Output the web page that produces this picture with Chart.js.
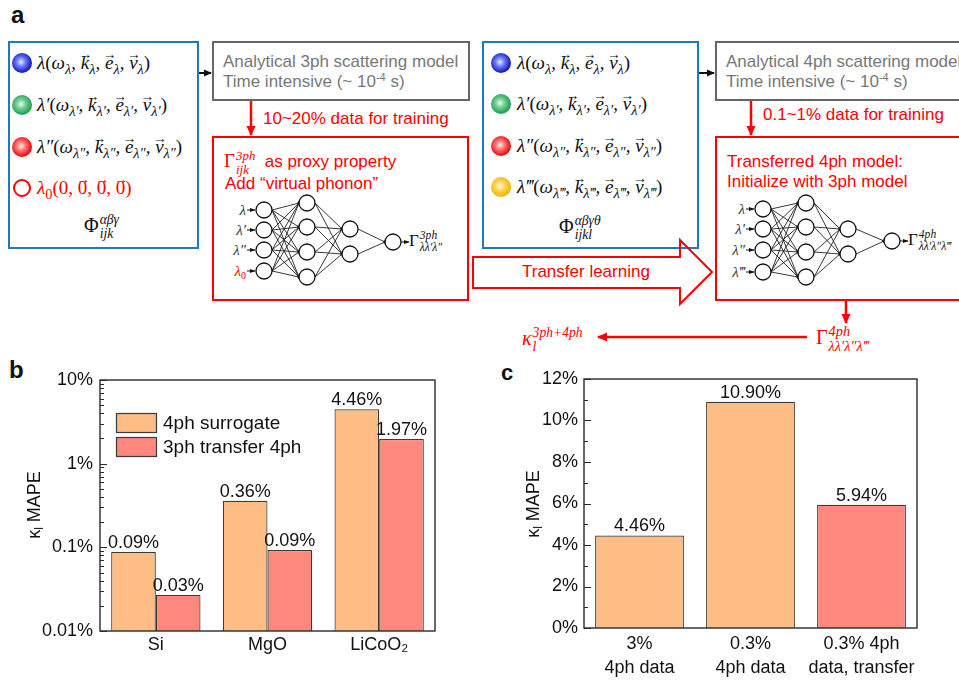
<!DOCTYPE html>
<html>
<head>
<meta charset="utf-8">
<script src="https://cdn.jsdelivr.net/npm/chart.js@4"></script>
<style>
  html, body { margin: 0; padding: 0; background: #fff; }
  body { width: 959px; height: 680px; position: relative; overflow: hidden;
         font-family: "Liberation Sans", Arial, Helvetica, sans-serif; }
  .abs { position: absolute; white-space: nowrap; }
  .box { position: absolute; box-sizing: border-box; border: 2px solid; }
  .blue { border-color: #1f78c6; }
  .gray { border-color: #666; }
  .red  { border-color: #ff0000; }
  .plab { font-weight: bold; font-size: 24px; color: #111; }
  .gtxt { font-size: 17px; line-height: 20px; color: #777; }
  .rtxt { font-size: 17px; line-height: 20px; color: #ff0000; }
  .m { font-family: "Liberation Serif", "DejaVu Serif", serif; font-style: italic; color: #111; }
  .up { font-style: normal; }
  .row { font-size: 19px; line-height: 22px; }
  sub.s { font-size: 0.76em; vertical-align: -0.35em; line-height: 0; }
  .vec { position: relative; display: inline-block; }
  .vec::after { content: "\2192"; position: absolute; left: 55%; transform: translateX(-50%);
                top: -0.62em; font-size: 0.72em; font-style: normal; }
  .ss { display: inline-flex; flex-direction: column; vertical-align: middle;
        font-size: 0.68em; line-height: 1.05; margin-left: 1px; }
  .ball { position: absolute; width: 20px; height: 20px; border-radius: 50%; }
  sup.t { font-size: 0.65em; line-height: 0; vertical-align: 0.55em; }
  canvas { position: absolute; }
</style>
</head>
<body>

<!-- panel letters -->
<div class="abs plab" style="left:11px;top:1px;">a</div>
<div class="abs plab" style="left:9px;top:356px;">b</div>
<div class="abs plab" style="left:501px;top:360px;font-size:22px;">c</div>

<!-- 3ph workflow -->
<div class="box blue" style="left:8px;top:41px;width:191px;height:208px;"></div>
<div class="box gray" style="left:212px;top:41px;width:258px;height:60px;"></div>
<div class="box red"  style="left:212px;top:136px;width:257px;height:165px;"></div>

<!-- 4ph workflow -->
<div class="box blue" style="left:482px;top:41px;width:217px;height:208px;"></div>
<div class="box gray" style="left:715px;top:41px;width:280px;height:60px;"></div>
<div class="box red"  style="left:715px;top:136px;width:280px;height:165px;"></div>

<svg id="diagram" class="abs" width="959" height="680" style="left:0;top:0;" xmlns="http://www.w3.org/2000/svg">
  <defs>
    <marker id="hk" markerWidth="8" markerHeight="8" refX="7" refY="4" orient="auto" markerUnits="userSpaceOnUse">
      <path d="M0,0.5 L8,4 L0,7.5 Z" fill="#111"/>
    </marker>
    <marker id="hr" markerWidth="10" markerHeight="10" refX="9" refY="5" orient="auto" markerUnits="userSpaceOnUse">
      <path d="M0,0.5 L10,5 L0,9.5 Z" fill="#ff0000"/>
    </marker>
    <marker id="hs" markerWidth="6" markerHeight="6" refX="5.5" refY="3" orient="auto" markerUnits="userSpaceOnUse">
      <path d="M0,0.8 L6,3 L0,5.2 Z" fill="#111"/>
    </marker>
  </defs>
  <!-- connectors -->
  <line x1="199" y1="73" x2="211" y2="73" stroke="#111" stroke-width="2" marker-end="url(#hk)"/>
  <line x1="699" y1="73" x2="714" y2="73" stroke="#111" stroke-width="2" marker-end="url(#hk)"/>
  <line x1="251" y1="101" x2="251" y2="135" stroke="#ff0000" stroke-width="2.5" marker-end="url(#hr)"/>
  <line x1="751" y1="101" x2="751" y2="135" stroke="#ff0000" stroke-width="2.5" marker-end="url(#hr)"/>
  <line x1="846" y1="301" x2="846" y2="323" stroke="#ff0000" stroke-width="2.5" marker-end="url(#hr)"/>
  <line x1="807" y1="337" x2="598" y2="337" stroke="#ff0000" stroke-width="2.5" marker-end="url(#hr)"/>
  <!-- transfer learning block arrow -->
  <polygon points="473,257 680,257 680,240 712,272 680,304 680,288 473,288"
           fill="none" stroke="#ff0000" stroke-width="2"/>
  <g id="net3"></g>
  <g id="net4"></g>
</svg>

<!-- gray model boxes -->
<div class="abs gtxt" style="left:223px;top:52px;">Analytical 3ph scattering model<br>Time intensive (~ 10<sup class="t">-4</sup> s)</div>
<div class="abs gtxt" style="left:726px;top:52px;">Analytical 4ph scattering model<br>Time intensive (~ 10<sup class="t">-4</sup> s)</div>

<div class="abs rtxt" style="left:263px;top:109px;">10~20% data for training</div>
<div class="abs rtxt" style="left:763px;top:105px;">0.1~1% data for training</div>

<!-- red model boxes -->
<div class="abs rtxt" style="left:224px;top:147px;line-height:28px;"><span class="m" style="color:#f00;font-size:19px;"><span class="up">Γ</span><span class="ss"><span>3ph</span><span>ijk</span></span></span>&nbsp; as proxy property</div>
<div class="abs rtxt" style="left:225px;top:174px;">Add “virtual phonon”</div>
<div class="abs rtxt" style="left:727px;top:152px;">Transferred 4ph model:<br>Initialize with 3ph model</div>

<div class="abs rtxt" style="left:522px;top:262px;">Transfer learning</div>

<!-- phonon descriptors, 3ph -->
<div class="ball" style="left:12px;top:53px;background:radial-gradient(circle at 45% 45%,#e8ecff 0%,#6f7ff2 28%,#1b1bd0 65%,#0b0b96 100%);"></div>
<div class="ball" style="left:12px;top:95px;background:radial-gradient(circle at 45% 45%,#eefaf2 0%,#79cf98 28%,#22a556 65%,#0f8a3e 100%);"></div>
<div class="ball" style="left:12px;top:137px;background:radial-gradient(circle at 45% 45%,#ffeeee 0%,#ff7b7b 28%,#f01010 65%,#c40000 100%);"></div>
<div class="ball" style="left:13px;top:179px;width:14px;height:14px;border:2.5px solid #ff0000;background:#fff;"></div>

<div class="abs m row" style="left:37px;top:52px;">λ<span class="up">(</span>ω<sub class="s">λ</sub>, <span class="vec">k</span><sub class="s">λ</sub>, <span class="vec">e</span><sub class="s">λ</sub>, <span class="vec">v</span><sub class="s">λ</sub><span class="up">)</span></div>
<div class="abs m row" style="left:37px;top:94px;">λ′<span class="up">(</span>ω<sub class="s">λ′</sub>, <span class="vec">k</span><sub class="s">λ′</sub>, <span class="vec">e</span><sub class="s">λ′</sub>, <span class="vec">v</span><sub class="s">λ′</sub><span class="up">)</span></div>
<div class="abs m row" style="left:37px;top:136px;">λ″<span class="up">(</span>ω<sub class="s">λ″</sub>, <span class="vec">k</span><sub class="s">λ″</sub>, <span class="vec">e</span><sub class="s">λ″</sub>, <span class="vec">v</span><sub class="s">λ″</sub><span class="up">)</span></div>
<div class="abs m row" style="left:37px;top:177px;color:#f00;">λ<sub class="s up">0</sub><span class="up">(0, <span class="vec">0</span>, <span class="vec">0</span>, <span class="vec">0</span>)</span></div>
<div class="abs m row" style="left:84px;top:213px;font-size:20px;"><span class="up">Φ</span><span class="ss"><span>αβγ</span><span>ijk</span></span></div>

<!-- phonon descriptors, 4ph -->
<div class="ball" style="left:491px;top:53px;background:radial-gradient(circle at 45% 45%,#e8ecff 0%,#6f7ff2 28%,#1b1bd0 65%,#0b0b96 100%);"></div>
<div class="ball" style="left:491px;top:94px;background:radial-gradient(circle at 45% 45%,#eefaf2 0%,#79cf98 28%,#22a556 65%,#0f8a3e 100%);"></div>
<div class="ball" style="left:491px;top:136px;background:radial-gradient(circle at 45% 45%,#ffeeee 0%,#ff7b7b 28%,#f01010 65%,#c40000 100%);"></div>
<div class="ball" style="left:491px;top:177px;background:radial-gradient(circle at 45% 45%,#fff8e0 0%,#ffd966 28%,#f7b500 65%,#e09a00 100%);"></div>

<div class="abs m row" style="left:517px;top:52px;">λ<span class="up">(</span>ω<sub class="s">λ</sub>, <span class="vec">k</span><sub class="s">λ</sub>, <span class="vec">e</span><sub class="s">λ</sub>, <span class="vec">v</span><sub class="s">λ</sub><span class="up">)</span></div>
<div class="abs m row" style="left:517px;top:93px;">λ′<span class="up">(</span>ω<sub class="s">λ′</sub>, <span class="vec">k</span><sub class="s">λ′</sub>, <span class="vec">e</span><sub class="s">λ′</sub>, <span class="vec">v</span><sub class="s">λ′</sub><span class="up">)</span></div>
<div class="abs m row" style="left:517px;top:135px;">λ″<span class="up">(</span>ω<sub class="s">λ″</sub>, <span class="vec">k</span><sub class="s">λ″</sub>, <span class="vec">e</span><sub class="s">λ″</sub>, <span class="vec">v</span><sub class="s">λ″</sub><span class="up">)</span></div>
<div class="abs m row" style="left:517px;top:176px;">λ‴<span class="up">(</span>ω<sub class="s">λ‴</sub>, <span class="vec">k</span><sub class="s">λ‴</sub>, <span class="vec">e</span><sub class="s">λ‴</sub>, <span class="vec">v</span><sub class="s">λ‴</sub><span class="up">)</span></div>
<div class="abs m row" style="left:559px;top:214px;font-size:20px;"><span class="up">Φ</span><span class="ss"><span>αβγθ</span><span>ijkl</span></span></div>

<!-- network outputs -->
<div class="abs m" style="left:409px;top:228px;font-size:17px;line-height:26px;"><span class="up">Γ</span><span class="ss"><span>3ph</span><span>λλ′λ″</span></span></div>
<div class="abs m" style="left:908px;top:227px;font-size:17px;line-height:26px;"><span class="up">Γ</span><span class="ss"><span>4ph</span><span>λλ′λ″λ‴</span></span></div>

<!-- final outputs -->
<div class="abs m" style="left:816px;top:322px;font-size:20px;line-height:30px;color:#f00;"><span class="up">Γ</span><span class="ss" style="font-size:0.72em;"><span>4ph</span><span>λλ′λ″λ‴</span></span></div>
<div class="abs m" style="left:522px;top:323px;font-size:20px;line-height:30px;color:#f00;">κ<span class="ss"><span>3ph+4ph</span><span>l</span></span></div>

<canvas id="chartB" width="470" height="310" style="left:0;top:370px;"></canvas>
<canvas id="chartC" width="479" height="310" style="left:480px;top:370px;"></canvas>

<script>
// ---- panel b: error of the 4ph models per material (log axis, %)
const materials = ['Si', 'MgO', 'LiCoO₂'];
const surrogate4ph = [0.088, 0.36, 4.46];
const transfer4ph = [0.027, 0.093, 1.97];
const logTicks = [0.01, 0.1, 1, 10];

// ---- panel c: LiCoO2 error vs. amount of 4ph training data (%)
const setups = [['3%', '4ph data'], ['0.3%', '4ph data'], ['0.3% 4ph', 'data, transfer']];
const setupMape = [4.46, 10.90, 5.94];
const setupTransfer = [false, false, true];
const linearTicks = [0, 2, 4, 6, 8, 10, 12];

const ORANGE = '#fdbd84';
const SALMON = '#ff887e';
const EDGE = '#3a3a3a';
const FONT = '"Liberation Sans", Arial, Helvetica, sans-serif';

const pct = v => v.toFixed(2) + '%';
const logLabel = v => {
  const e = Math.round(Math.log10(v));
  return (e >= 0 ? String(Math.pow(10, e)) : Math.pow(10, e).toFixed(-e)) + '%';
};
// minor tick values: 2..9 within each decade, midpoints on the linear axis
const logMinor = [];
for (let i = 0; i < logTicks.length - 1; i++) for (let k = 2; k <= 9; k++) logMinor.push(logTicks[i] * k);
const linMinor = linearTicks.slice(1).map((v, i) => (v + linearTicks[i]) / 2);

// ---- neural network sketches
function drawNet(gid, layers, inputs) {
  const g = document.getElementById(gid);
  const NS = 'http://www.w3.org/2000/svg';
  const r = 8;
  const el = (tag, attrs, txt) => {
    const e = document.createElementNS(NS, tag);
    for (const k in attrs) e.setAttribute(k, attrs[k]);
    if (txt !== undefined) e.textContent = txt;
    g.appendChild(e);
    return e;
  };
  for (let i = 0; i < layers.length - 1; i++) {
    const A = layers[i], B = layers[i + 1];
    for (const ya of A.ys) for (const yb of B.ys) {
      el('line', { x1: A.x + r, y1: ya, x2: B.x - r, y2: yb, stroke: '#222', 'stroke-width': 0.9 });
    }
    for (const yb of B.ys) el('circle', { cx: B.x - r, cy: yb, r: 1.7, fill: '#111' });
  }
  for (const L of layers) for (const y of L.ys) {
    el('circle', { cx: L.x, cy: y, r: r, fill: '#fff', stroke: '#111', 'stroke-width': 1.3 });
  }
  // vertical ellipses between middle nodes of the hidden layers
  [layers[1], layers[2]].forEach(L => {
    const mid = L.ys.length === 4 ? (L.ys[1] + L.ys[2]) / 2 : (L.ys[0] + L.ys[1]) / 2;
    for (const d of [-2.5, 0, 2.5]) el('circle', { cx: L.x, cy: mid + d, r: 0.5, fill: '#999' });
  });
  const L0 = layers[0];
  inputs.forEach((lab, i) => {
    const y = L0.ys[i];
    el('line', { x1: L0.x - r - 9, y1: y, x2: L0.x - r - 1, y2: y, stroke: '#111', 'stroke-width': 1, 'marker-end': 'url(#hs)' });
    const t = el('text', { x: L0.x - r - 10, y: y + 5, 'text-anchor': 'end', 'font-family': '"Liberation Serif", serif',
                            'font-style': 'italic', 'font-size': 15, fill: lab.color || '#333' });
    const a = document.createElementNS(NS, 'tspan'); a.textContent = lab.main; t.appendChild(a);
    if (lab.sub) {
      const b = document.createElementNS(NS, 'tspan');
      b.setAttribute('font-size', 10); b.setAttribute('dy', 3); b.setAttribute('font-style', 'normal');
      b.textContent = lab.sub; t.appendChild(b);
    }
  });
  const Lo = layers[layers.length - 1];
  el('line', { x1: Lo.x + r, y1: Lo.ys[0], x2: Lo.x + r + 8, y2: Lo.ys[0], stroke: '#111', 'stroke-width': 1, 'marker-end': 'url(#hs)' });
}
drawNet('net3', [
  { x: 264, ys: [210, 230, 250, 271] },
  { x: 307, ys: [203, 227, 252, 277] },
  { x: 350, ys: [229, 254] },
  { x: 393, ys: [242] }
], [{ main: 'λ' }, { main: 'λ′' }, { main: 'λ″' }, { main: 'λ', sub: '0', color: '#f00' }]);
drawNet('net4', [
  { x: 763, ys: [209, 229, 250, 272] },
  { x: 806, ys: [203, 227, 252, 277] },
  { x: 848, ys: [229, 254] },
  { x: 892, ys: [241] }
], [{ main: 'λ' }, { main: 'λ′' }, { main: 'λ″' }, { main: 'λ‴' }]);

// ---- chart helpers
function framePlugin(minor) {
  return {
    id: 'frame',
    afterDatasetsDraw(chart) {
      const { ctx, chartArea: a } = chart;
      const y = chart.scales.y;
      ctx.save();
      ctx.strokeStyle = '#2a2a2a';
      ctx.lineWidth = 1.4;
      ctx.strokeRect(a.left, a.top, a.right - a.left, a.bottom - a.top);
      ctx.lineWidth = 1;
      ctx.beginPath();
      for (const t of y.ticks) {
        const p = Math.round(y.getPixelForValue(t.value)) + 0.5;
        ctx.moveTo(a.left, p); ctx.lineTo(a.left + 7, p);
      }
      for (const v of minor) {
        const p = Math.round(y.getPixelForValue(v)) + 0.5;
        ctx.moveTo(a.left, p); ctx.lineTo(a.left + 4, p);
      }
      ctx.stroke();
      ctx.restore();
    }
  };
}
const valuePlugin = {
  id: 'values',
  afterDatasetsDraw(chart) {
    const { ctx } = chart;
    ctx.save();
    ctx.font = '18px ' + FONT;
    ctx.fillStyle = '#111';
    ctx.textAlign = 'center';
    ctx.textBaseline = 'alphabetic';
    chart.data.datasets.forEach((ds, i) => {
      chart.getDatasetMeta(i).data.forEach((bar, j) => ctx.fillText(pct(ds.data[j]), bar.x, bar.y - 4));
    });
    ctx.restore();
  }
};
function insetLegend(dx, dy, step) {
  return {
    id: 'insetLegend',
    afterDatasetsDraw(chart) {
      const { ctx, chartArea: a } = chart;
      ctx.save();
      ctx.font = '19px ' + FONT;
      ctx.textBaseline = 'middle';
      chart.data.datasets.forEach((ds, i) => {
        const x = a.left + dx, y = a.top + dy + i * step;
        ctx.fillStyle = ds.backgroundColor;
        ctx.fillRect(x, y, 40, 19);
        ctx.strokeStyle = EDGE;
        ctx.lineWidth = 1.2;
        ctx.strokeRect(x + 0.5, y + 0.5, 40, 19);
        ctx.fillStyle = '#111';
        ctx.fillText(ds.label, x + 47, y + 11);
      });
      ctx.restore();
    }
  };
}
function yTitle(cx, cy) {
  return {
    id: 'yTitle',
    afterDraw(chart) {
      const ctx = chart.ctx;
      ctx.save();
      ctx.translate(cx, cy);
      ctx.rotate(-Math.PI / 2);
      ctx.fillStyle = '#111';
      ctx.textBaseline = 'alphabetic';
      const big = '18px ' + FONT, small = '12px ' + FONT;
      ctx.font = big; const wk = ctx.measureText('κ').width; const wm = ctx.measureText(' MAPE').width;
      ctx.font = small; const wl = ctx.measureText('l').width;
      let x = -(wk + wl + wm) / 2;
      ctx.font = big; ctx.fillText('κ', x, 6.5); x += wk;
      ctx.font = small; ctx.fillText('l', x, 10); x += wl;
      ctx.font = big; ctx.fillText(' MAPE', x, 6.5);
      ctx.restore();
    }
  };
}
// fixed axis boxes so the plot area sits at a known place
const fixBox = (w, h) => s => {
  if (w !== null) s.width = w;
  if (h !== null) s.height = h;
  s.paddingTop = 0; s.paddingBottom = 0; s.paddingLeft = 0; s.paddingRight = 0;
};
const tickFont = { family: FONT, size: 18 };

// ---- panel b
new Chart(document.getElementById('chartB'), {
  type: 'bar',
  data: {
    labels: materials,
    datasets: [
      { label: '4ph surrogate', data: surrogate4ph, backgroundColor: ORANGE, borderColor: EDGE, borderWidth: 1.2 },
      { label: '3ph transfer 4ph', data: transfer4ph, backgroundColor: SALMON, borderColor: EDGE, borderWidth: 1.2 }
    ]
  },
  options: {
    responsive: false, animation: false, devicePixelRatio: 1,
    layout: { padding: { top: 10, right: 35, left: 0, bottom: 0 } },
    datasets: { bar: { categoryPercentage: 0.8, barPercentage: 1.0 } },
    plugins: { legend: { display: false }, tooltip: { enabled: false } },
    scales: {
      x: {
        grid: { display: false, drawTicks: false }, border: { display: false },
        ticks: { font: tickFont, color: '#111', padding: 3, maxRotation: 0, minRotation: 0 },
        afterFit: fixBox(null, 49)
      },
      y: {
        type: 'logarithmic', min: 0.01, max: 10,
        grid: { display: false, drawTicks: false }, border: { display: false },
        ticks: { font: tickFont, color: '#111', padding: 7, autoSkip: false, callback: v => logLabel(v) },
        afterBuildTicks: s => { s.ticks = logTicks.map(v => ({ value: v })); },
        afterFit: fixBox(100, null)
      }
    }
  },
  plugins: [framePlugin(logMinor), valuePlugin, insetLegend(16, 33, 24), yTitle(33, 135)]
});

// ---- panel c
new Chart(document.getElementById('chartC'), {
  type: 'bar',
  data: {
    labels: setups,
    datasets: [{
      label: 'LiCoO₂',
      data: setupMape,
      backgroundColor: setupTransfer.map(t => t ? SALMON : ORANGE),
      borderColor: EDGE, borderWidth: 1.2
    }]
  },
  options: {
    responsive: false, animation: false, devicePixelRatio: 1,
    layout: { padding: { top: 9, right: 42, left: 0, bottom: 0 } },
    datasets: { bar: { categoryPercentage: 1.0, barPercentage: 0.8 } },
    plugins: { legend: { display: false }, tooltip: { enabled: false } },
    scales: {
      x: {
        grid: { display: false, drawTicks: false }, border: { display: false },
        ticks: { font: { family: FONT, size: 18, lineHeight: 1.28 }, color: '#111', padding: 5, maxRotation: 0, minRotation: 0 },
        afterFit: fixBox(null, 52)
      },
      y: {
        min: 0, max: 12,
        grid: { display: false, drawTicks: false }, border: { display: false },
        ticks: { font: tickFont, color: '#111', padding: 6, autoSkip: false, callback: v => v + '%' },
        afterBuildTicks: s => { s.ticks = linearTicks.map(v => ({ value: v })); },
        afterFit: fixBox(104, null)
      }
    }
  },
  plugins: [framePlugin(linMinor), valuePlugin, yTitle(52, 134)]
});
</script>
</body>
</html>
